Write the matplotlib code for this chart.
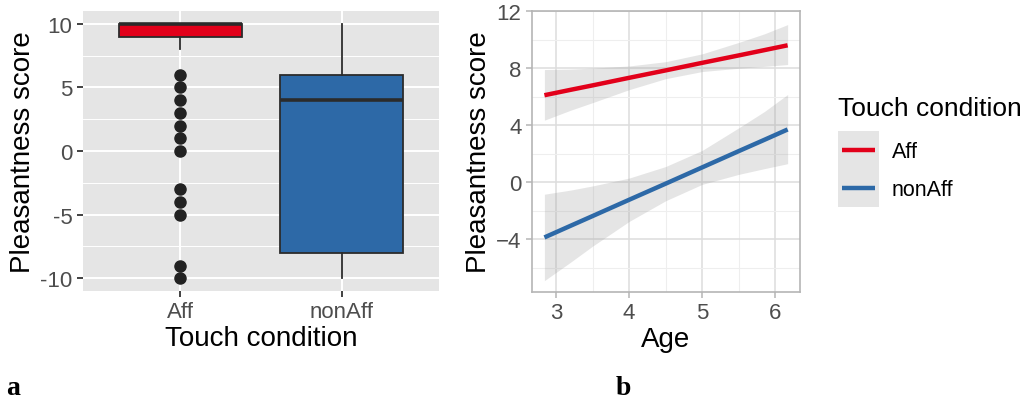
import matplotlib
matplotlib.use('Agg')
import matplotlib.pyplot as plt
from matplotlib.legend_handler import HandlerLine2D
from matplotlib.lines import Line2D
from matplotlib.patches import Rectangle
from matplotlib.ticker import MultipleLocator

plt.rcParams['font.family'] = ['Liberation Sans', 'DejaVu Sans']

# panel a: box plot stats
conditions = ['Aff', 'nonAff']
whisker_lo = [8, -10]
q1 = [9, -8]
medians = [10, 4]
q3 = [10, 6]
whisker_hi = [10, 10]
aff_outliers = [6, 5, 4, 3, 2, 1, 0, -3, -4, -5, -9, -10]
nonaff_outliers = []

# panel b: linear fits with confidence band, read at these ages
ages = [2.84, 3.2, 3.5, 4.0, 4.5, 5.0, 5.5, 5.85, 6.17]
aff_fit = [6.1, 6.48, 6.79, 7.32, 7.84, 8.37, 8.89, 9.26, 9.6]
aff_upper = [7.9, 7.93, 8.0, 8.15, 8.45, 9.0, 9.8, 10.4, 11.05]
aff_lower = [4.35, 5.05, 5.58, 6.49, 7.26, 7.76, 7.99, 8.12, 8.25]
nonaff_fit = [-3.87, -3.05, -2.37, -1.23, -0.10, 1.04, 2.18, 2.97, 3.7]
nonaff_upper = [-0.84, -0.55, -0.26, 0.29, 1.1, 2.23, 3.81, 4.95, 6.15]
nonaff_lower = [-6.9, -5.6, -4.48, -2.75, -1.3, -0.15, 0.55, 0.95, 1.3]

RED = '#E2001A'
BLUE = '#2D69A7'
colors = [RED, BLUE]


class KeyHandler(HandlerLine2D):
    # ggplot-like legend key: grey square with a line across
    def create_artists(self, legend, orig_handle, xdescent, ydescent,
                       width, height, fontsize, trans):
        bg = Rectangle((-xdescent, -ydescent), width, height,
                       facecolor='#E5E5E5', edgecolor='none', transform=trans)
        y = -ydescent + height / 2.
        ln = Line2D([-xdescent + 0.1 * width, -xdescent + 0.9 * width], [y, y],
                    color=orig_handle.get_color(), lw=orig_handle.get_linewidth(),
                    solid_capstyle='butt', transform=trans)
        return [bg, ln]


fig = plt.figure(figsize=(10.31, 4.02), dpi=100)
ax_box = fig.add_axes([0.0805, 0.2736, 0.3453, 0.6964])
ax_fit = fig.add_axes([0.516, 0.271, 0.260, 0.699])

# ---- panel a ----
stats = []
for i, name in enumerate(conditions):
    stats.append(dict(label=name, whislo=whisker_lo[i], q1=q1[i], med=medians[i],
                      q3=q3[i], whishi=whisker_hi[i],
                      fliers=[aff_outliers, nonaff_outliers][i]))
bp = ax_box.bxp(stats, positions=[1, 2], widths=0.76, patch_artist=True,
                showcaps=False,
                boxprops=dict(edgecolor='#2b2b2b', linewidth=1.3),
                whiskerprops=dict(color='#2b2b2b', linewidth=1.3),
                medianprops=dict(color='#2b2b2b', linewidth=2.6, solid_capstyle='butt'),
                flierprops=dict(marker='o', markersize=8, markerfacecolor='#222222',
                                markeredgecolor='#222222'))
for patch, c in zip(bp['boxes'], colors):
    patch.set_facecolor(c)

ax_box.set_facecolor('#E5E5E5')
ax_box.set_xlim(0.4, 2.6)
ax_box.set_ylim(-11, 11)
ax_box.set_yticks([-10, -5, 0, 5, 10])
ax_box.set_yticklabels(['-10', '-5', '0', '5', '10'])
ax_box.yaxis.set_minor_locator(MultipleLocator(2.5))
ax_box.set_axisbelow(True)
ax_box.grid(which='major', color='white', linewidth=1.4)
ax_box.grid(which='minor', axis='y', color='white', linewidth=0.7)
for s in ax_box.spines.values():
    s.set_visible(False)
ax_box.tick_params(which='major', length=4.5, width=1.3, color='#333333',
                   labelcolor='#4D4D4D', labelsize=16, pad=3)
ax_box.tick_params(which='minor', length=0)
ax_box.set_xlabel('Touch condition', fontsize=20, labelpad=2)
ax_box.set_ylabel('Pleasantness score', fontsize=20, labelpad=3)

# ---- panel b ----
ax_fit.fill_between(ages, aff_lower, aff_upper, color='#999999', alpha=0.25, lw=0)
ax_fit.fill_between(ages, nonaff_lower, nonaff_upper, color='#999999', alpha=0.25, lw=0)
ax_fit.plot(ages, aff_fit, color=RED, lw=3.2, label='Aff', solid_capstyle='butt')
ax_fit.plot(ages, nonaff_fit, color=BLUE, lw=3.2, label='nonAff', solid_capstyle='butt')

ax_fit.set_xlim(2.67, 6.34)
ax_fit.set_ylim(-7.7, 12.0)
ax_fit.set_xticks([3, 4, 5, 6])
ax_fit.set_yticks([-4, 0, 4, 8, 12])
ax_fit.xaxis.set_minor_locator(MultipleLocator(0.5))
ax_fit.yaxis.set_minor_locator(MultipleLocator(2))
ax_fit.set_axisbelow(True)
ax_fit.grid(which='major', color='#DDDDDD', linewidth=1.1)
ax_fit.grid(which='minor', color='#EEEEEE', linewidth=0.8)
for s in ax_fit.spines.values():
    s.set_color('#B5B5B5')
    s.set_linewidth(1.2)
ax_fit.tick_params(which='major', length=4.5, width=1.1, color='#B5B5B5',
                   labelcolor='#4D4D4D', labelsize=16, pad=3)
ax_fit.tick_params(which='minor', length=0)
ax_fit.set_xlabel('Age', fontsize=20, labelpad=2)
ax_fit.set_ylabel('Pleasantness score', fontsize=20, labelpad=3)

handles, labels = ax_fit.get_legend_handles_labels()
leg = fig.legend(handles, labels, title='Touch condition', loc='upper left',
                 bbox_to_anchor=(838 / 1031, 1 - 97 / 402), frameon=False,
                 fontsize=15.5, title_fontsize=19, handlelength=1.9,
                 handleheight=2.34, labelspacing=0, handletextpad=0.6,
                 borderpad=0, borderaxespad=0,
                 handler_map={Line2D: KeyHandler()})
leg._legend_box.align = 'left'
leg._legend_box.sep = 8

fig.text(6 / 1031, 1 - 395 / 402, 'a', fontsize=20, fontweight='bold',
         family='Liberation Serif')
fig.text(616 / 1031, 1 - 395 / 402, 'b', fontsize=20, fontweight='bold',
         family='Liberation Serif')

fig.savefig('out.png', dpi=100)
